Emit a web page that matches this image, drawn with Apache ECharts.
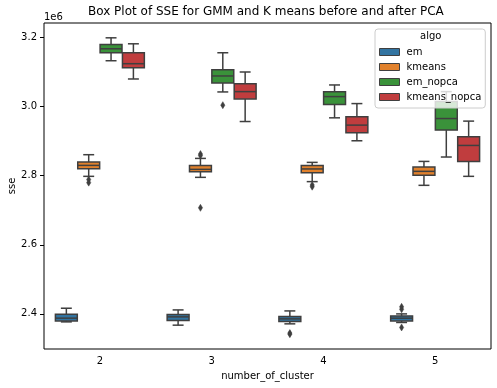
<!DOCTYPE html>
<html>
<head>
<meta charset="utf-8">
<script src="https://cdn.jsdelivr.net/npm/echarts@6/dist/echarts.min.js"></script>
<style>html,body{margin:0;padding:0;background:#fff}#c{width:497px;height:388px}</style>
</head>
<body>
<div id="c"></div>
<script>
// ---- data (values in units of 1e6) ----
const categories = ['2', '3', '4', '5'];
const hueNames = ['em', 'kmeans', 'em_nopca', 'kmeans_nopca'];
const yTickValues = [2.4, 2.6, 2.8, 3.0, 3.2];
const offsetText = '1e6';
// each row: [low whisker, Q1, median, Q3, high whisker] for cluster 2,3,4,5
const em = [
  [2.3769, 2.3798, 2.3877, 2.3992, 2.4164],
  [2.3674, 2.3810, 2.3914, 2.3983, 2.4115],
  [2.3712, 2.3781, 2.3856, 2.3925, 2.4086],
  [2.3752, 2.3798, 2.3876, 2.3942, 2.4000]
];
const kmeans = [
  [2.7980, 2.8202, 2.8297, 2.8395, 2.8606],
  [2.7951, 2.8115, 2.8182, 2.8297, 2.8499],
  [2.7827, 2.8087, 2.8194, 2.8297, 2.8384],
  [2.7720, 2.8009, 2.8124, 2.8251, 2.8412]
];
const em_nopca = [
  [3.1325, 3.1556, 3.1671, 3.1798, 3.1988],
  [3.0422, 3.0682, 3.0884, 3.1066, 3.1556],
  [2.9673, 3.0056, 3.0287, 3.0431, 3.0624],
  [2.8539, 2.9318, 2.9652, 3.0143, 3.0431]
];
const kmeans_nopca = [
  [3.0797, 3.1123, 3.1239, 3.1556, 3.1815],
  [2.9566, 3.0221, 3.0431, 3.0662, 3.0999],
  [2.9009, 2.9240, 2.9462, 2.9702, 3.0085],
  [2.7980, 2.8412, 2.8874, 2.9125, 2.9578]
];
// outliers: [cluster index, value]
const em_outliers = [[2, 2.3445], [2, 2.3413], [3, 2.4204], [3, 2.4132], [3, 2.3608]];
const kmeans_outliers = [[0, 2.7885], [0, 2.7798], [1, 2.8625], [1, 2.8580], [1, 2.7069], [2, 2.7730], [2, 2.7680]];
const em_nopca_outliers = [[1, 3.0039]];
const kmeans_nopca_outliers = [];

// ---- styles ----
const BOX_COLORS = ['#3274a1', '#e1812c', '#3a923a', '#c03d3e'];
const LINE = '#3f3f3f';
const FONT = 'DejaVu Sans';
const LW = 1.5;

const boxStats = [em, kmeans, em_nopca, kmeans_nopca];
const outlierSets = [em_outliers, kmeans_outliers, em_nopca_outliers, kmeans_nopca_outliers];
const NH = hueNames.length;

// y extent like matplotlib autoscale (5% margin)
let allVals = [];
boxStats.forEach(s => s.forEach(r => allVals.push(...r)));
outlierSets.forEach(s => s.forEach(r => allVals.push(r[1])));
const dMin = Math.min(...allVals), dMax = Math.max(...allVals);
const mrg = (dMax - dMin) * 0.05;

function hueOffset(h, band) { return (h - (NH - 1) / 2) * (0.8 / NH) * band; }

function boxRenderer(h) {
  return function (params, api) {
    const band = api.size([1, 0])[0];
    const w = 0.98 * (0.8 / NH) * band;
    const c = api.value(0);
    const x = api.coord([c, 0])[0] + hueOffset(h, band);
    const y = i => api.coord([c, api.value(i)])[1];
    const yl = y(1), yq1 = y(2), ym = y(3), yq3 = y(4), yh = y(5);
    const ls = { stroke: LINE, lineWidth: LW };
    return {
      type: 'group',
      children: [
        { type: 'line', shape: { x1: x, y1: yq3, x2: x, y2: yh }, style: ls },
        { type: 'line', shape: { x1: x, y1: yl, x2: x, y2: yq1 }, style: ls },
        { type: 'line', shape: { x1: x - w / 4, y1: yh, x2: x + w / 4, y2: yh }, style: ls },
        { type: 'line', shape: { x1: x - w / 4, y1: yl, x2: x + w / 4, y2: yl }, style: ls },
        { type: 'rect', shape: { x: x - w / 2, y: yq3, width: w, height: yq1 - yq3 },
          style: { fill: api.visual('color'), stroke: LINE, lineWidth: LW } },
        { type: 'line', shape: { x1: x - w / 2, y1: ym, x2: x + w / 2, y2: ym }, style: ls }
      ]
    };
  };
}

function outlierRenderer(params, api) {
  const band = api.size([1, 0])[0];
  const h = api.value(2);
  const p = api.coord([api.value(0), api.value(1)]);
  const x = p[0] + hueOffset(h, band), y = p[1];
  const hh = 3.5, hw = 2.1;
  return {
    type: 'polygon',
    shape: { points: [[x, y - hh], [x + hw, y], [x, y + hh], [x - hw, y]] },
    style: { fill: LINE, stroke: LINE, lineWidth: 0.5 }
  };
}

const series = hueNames.map((name, h) => ({
  name: name,
  type: 'custom',
  renderItem: boxRenderer(h),
  itemStyle: { color: BOX_COLORS[h] },
  encode: { x: 0, y: [1, 2, 3, 4, 5] },
  data: boxStats[h].map((r, i) => [i, ...r]),
  z: 2
}));
const outlierData = [];
outlierSets.forEach((s, h) => s.forEach(r => outlierData.push([r[0], r[1], h])));
series.push({
  name: 'outliers',
  type: 'custom',
  renderItem: outlierRenderer,
  itemStyle: { color: LINE },
  encode: { x: 0, y: 1 },
  data: outlierData,
  z: 3
});

const chart = echarts.init(document.getElementById('c'), null, { renderer: 'canvas' });
chart.setOption({
  animation: false,
  textStyle: { fontFamily: FONT },
  title: {
    text: 'Box Plot of SSE for GMM and K means before and after PCA',
    left: 88, top: 6, padding: 0,
    textStyle: { fontFamily: FONT, fontSize: 12, fontWeight: 'normal', color: '#000' }
  },
  grid: { left: 44, right: 6, top: 23, bottom: 39, outerBoundsMode: 'none', containLabel: false,
    show: true, borderColor: '#000', borderWidth: 1, backgroundColor: 'transparent' },
  xAxis: {
    type: 'category',
    data: categories,
    name: 'number_of_cluster', nameLocation: 'middle', nameGap: 22, nameMoveOverlap: false,
    nameTextStyle: { fontFamily: FONT, fontSize: 10, color: '#000' },
    axisLine: { show: false },
    axisTick: { alignWithLabel: true, length: 4, lineStyle: { color: '#000', width: 1 } },
    axisLabel: { margin: 7, fontFamily: FONT, fontSize: 10, color: '#000' },
    splitLine: { show: false }
  },
  yAxis: {
    type: 'value',
    min: dMin - mrg, max: dMax + mrg,
    name: 'sse', nameLocation: 'middle', nameGap: 27, nameRotate: 90, nameMoveOverlap: false,
    nameTextStyle: { fontFamily: FONT, fontSize: 10, color: '#000' },
    axisLine: { show: false },
    axisTick: { show: true, length: 4, customValues: yTickValues, lineStyle: { color: '#000', width: 1 } },
    axisLabel: { margin: 7, fontFamily: FONT, fontSize: 10, color: '#000', customValues: yTickValues,
      formatter: v => v.toFixed(1) },
    splitLine: { show: false }
  },
  legend: {
    data: hueNames,
    orient: 'vertical',
    left: 375, top: 29,
    padding: [17, 4, 5, 4],
    itemGap: 3,
    itemWidth: 20, itemHeight: 7,
    icon: 'rect',
    itemStyle: { borderColor: LINE, borderWidth: 1 },
    textStyle: { fontFamily: FONT, fontSize: 10, color: '#000', lineHeight: 12, padding: [0, 0, 0, 2] },
    backgroundColor: 'rgba(255,255,255,0.8)',
    borderColor: '#cccccc', borderWidth: 1, borderRadius: 3,
    selectedMode: false,
    z: 10
  },
  graphic: [
    { type: 'text', left: 44, top: 12, z: 20,
      style: { text: offsetText, font: '10px "DejaVu Sans"', fill: '#000' } },
    { type: 'text', left: 420, top: 31, z: 20,
      style: { text: 'algo', font: '10px "DejaVu Sans"', fill: '#000' } }
  ],
  series: series
});
</script>
</body>
</html>
